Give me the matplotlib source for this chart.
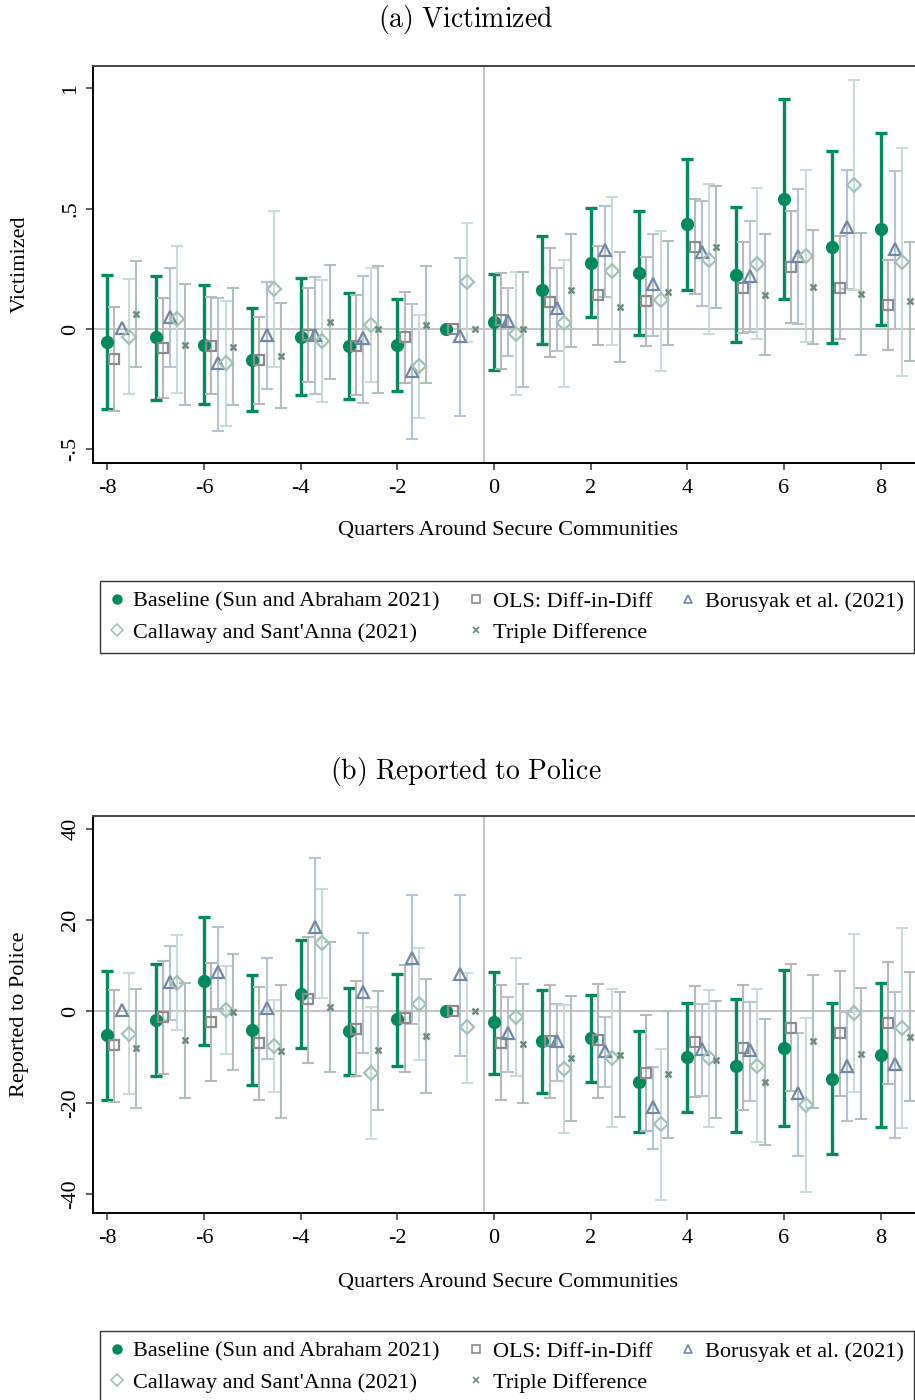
import numpy as np
import matplotlib
matplotlib.use("Agg")
import matplotlib.pyplot as plt
from matplotlib.lines import Line2D

plt.rcParams['font.family'] = ['Liberation Serif', 'DejaVu Serif']
plt.rcParams['mathtext.fontset'] = 'cm'

nan = np.nan
quarters = np.arange(-8, 9)

# ---- panel (a): victimized ----
vic_base = [-0.055, -0.035, -0.066, -0.127, -0.032, -0.071, -0.065, 0.0, 0.028, 0.162, 0.274, 0.234, 0.436, 0.224, 0.542, 0.340, 0.415]
vic_base_lo = [-0.332, -0.293, -0.311, -0.339, -0.275, -0.289, -0.256, nan, -0.170, -0.062, 0.048, -0.024, 0.162, -0.053, 0.124, -0.059, 0.017]
vic_base_hi = [0.224, 0.221, 0.181, 0.086, 0.212, 0.151, 0.124, nan, 0.227, 0.387, 0.501, 0.490, 0.705, 0.505, 0.956, 0.740, 0.815]

vic_ols = [-0.124, -0.079, -0.071, -0.129, -0.024, -0.069, -0.035, 0.0, 0.036, 0.111, 0.141, 0.118, 0.342, 0.172, 0.259, 0.172, 0.100]
vic_ols_lo = [-0.339, -0.286, -0.271, -0.311, -0.220, -0.274, -0.223, nan, -0.165, -0.115, -0.065, -0.072, 0.145, -0.018, 0.026, -0.043, -0.087]
vic_ols_hi = [0.093, 0.127, 0.131, 0.051, 0.170, 0.140, 0.152, nan, 0.232, 0.337, 0.346, 0.300, 0.541, 0.361, 0.491, 0.385, 0.286]

vic_bor = [0.005, 0.051, -0.142, -0.024, -0.024, -0.039, -0.173, -0.030, 0.035, 0.089, 0.328, 0.189, 0.318, 0.221, 0.304, 0.422, 0.331]
vic_bor_lo = [nan, -0.159, -0.422, -0.250, -0.270, -0.307, -0.459, -0.362, -0.113, -0.090, 0.131, -0.028, 0.095, -0.014, 0.021, 0.165, 0.0]
vic_bor_hi = [nan, 0.252, 0.129, 0.195, 0.214, 0.219, 0.104, 0.293, 0.172, 0.253, 0.509, 0.396, 0.530, 0.447, 0.580, 0.661, 0.657]

vic_cs = [-0.032, 0.040, -0.142, 0.165, -0.051, 0.018, -0.154, 0.194, -0.022, 0.024, 0.242, 0.120, 0.288, 0.272, 0.304, 0.598, 0.277]
vic_cs_lo = [-0.270, -0.267, -0.404, -0.159, -0.303, -0.220, -0.371, -0.055, -0.275, -0.239, -0.066, -0.173, -0.021, -0.043, -0.053, 0.162, -0.195]
vic_cs_hi = [0.207, 0.346, 0.118, 0.491, 0.203, 0.253, 0.059, 0.441, 0.235, 0.288, 0.549, 0.408, 0.602, 0.584, 0.660, 1.035, 0.751]

vic_ddd = [0.062, -0.066, -0.073, -0.112, 0.029, 0.0, 0.018, 0.0, -0.001, 0.162, 0.093, 0.155, 0.342, 0.141, 0.176, 0.145, 0.115]
vic_ddd_lo = [-0.156, -0.317, -0.317, -0.329, -0.206, -0.264, -0.224, nan, -0.242, -0.073, -0.136, -0.065, 0.087, -0.109, -0.062, -0.107, -0.131]
vic_ddd_hi = [0.281, 0.185, 0.170, 0.107, 0.267, 0.261, 0.263, nan, 0.238, 0.396, 0.318, 0.367, 0.593, 0.393, 0.412, 0.400, 0.362]

# ---- panel (b): reported to police ----
rep_base = [-5.18, -1.9, 6.72, -4.09, 3.8, -4.38, -1.75, 0.0, -2.4, -6.5, -5.9, -15.4, -10.0, -12.0, -7.96, -14.7, -9.56]
rep_base_lo = [-19.3, -14.2, -7.37, -16.1, -7.96, -13.9, -11.9, nan, -13.6, -17.9, -15.5, -26.3, -22.0, -26.4, -25.1, -31.2, -25.3]
rep_base_hi = [8.9, 10.3, 20.7, 7.88, 15.6, 5.18, 8.3, nan, 8.7, 4.6, 3.7, -4.38, 1.9, 2.63, 9.05, 1.9, 6.13]

rep_ols = [-7.45, -1.24, -2.34, -7.0, 2.63, -3.8, -1.53, 0.0, -6.86, -6.5, -6.35, -13.4, -6.64, -7.96, -3.58, -4.8, -2.48]
rep_ols_lo = [-19.8, -13.7, -15.2, -19.4, -11.2, -14.2, -13.2, nan, -19.4, -19.0, -19.05, -26.1, -18.8, -21.6, -17.4, -18.5, -15.8]
rep_ols_hi = [4.67, 11.0, 10.6, 5.4, 16.35, 6.7, 10.1, nan, 5.77, 5.77, 6.1, -0.88, 5.55, 5.84, 10.3, 8.76, 10.8]

rep_bor = [0.29, 6.5, 8.69, 0.8, 18.5, 4.3, 11.75, 8.2, -4.67, -6.5, -8.6, -20.9, -8.25, -8.47, -17.96, -11.9, -11.6]
rep_bor_lo = [nan, -1.9, 0.44, -10.4, 2.85, -9.05, -2.85, -9.7, -13.2, -15.2, -16.5, -30.1, -18.5, -19.6, -31.6, -23.9, -27.8]
rep_bor_hi = [nan, 14.3, 18.5, 11.75, 33.5, 17.1, 25.5, 25.5, 3.2, 1.6, -1.17, -12.1, 1.6, 1.97, -4.8, -0.15, 4.16]

rep_cs = [-4.96, 6.28, 0.29, -7.5, 14.9, -13.4, 1.6, -3.5, -1.24, -12.6, -10.3, -24.7, -10.3, -12.0, -20.4, -0.36, -3.65]
rep_cs_lo = [-18.1, -4.09, -9.34, -17.7, 3.0, -27.9, -10.7, -15.6, -14.1, -26.6, -25.2, -41.2, -25.4, -28.5, -39.5, -17.7, -25.5]
rep_cs_hi = [8.4, 16.7, 9.93, 2.6, 26.9, 1.0, 13.9, 8.5, 11.7, 1.3, 4.8, -8.25, 4.67, 4.8, -1.4, 17.0, 18.3]

rep_ddd = [-8.1, -6.35, -0.15, -8.76, 1.0, -8.47, -5.33, 0.0, -7.08, -10.3, -9.56, -13.8, -10.6, -15.5, -6.57, -9.27, -5.55]
rep_ddd_lo = [-21.1, -19.0, -12.8, -23.4, -13.2, -21.6, -17.9, nan, -20.0, -24.1, -23.1, -27.7, -23.3, -29.3, -21.2, -23.6, -19.6]
rep_ddd_hi = [4.89, 6.28, 12.6, 5.84, 15.1, 4.45, 7.15, nan, 5.9, 3.4, 4.3, 0.0, 2.2, -1.6, 8.0, 5.18, 8.54]

labels = ["Baseline (Sun and Abraham 2021)", "OLS: Diff-in-Diff", "Borusyak et al. (2021)",
          "Callaway and Sant'Anna (2021)", "Triple Difference"]

# style per series: offset, marker, marker size, marker colour, ci colour, ci width, filled
styles = [
    (0.00, 'o', 8.5, '#008a5e', '#008a5e', 2.4, True),
    (0.15, 's', 7.5, '#8c8c8c', '#b8b8b8', 1.5, False),
    (0.30, '^', 8.5, '#7088a8', '#b5c2d3', 1.5, False),
    (0.45, 'D', 7.0, '#a2c2b4', '#cadcd4', 1.5, False),
    (0.60, 'x', 5.0, '#6c8c7c', '#aec2b8', 1.5, False),
]

W, H = 915, 1400
fig = plt.figure(figsize=(W / 100, H / 100), dpi=100)


def fx(px):
    return px / W


def fy(py):
    return 1 - py / H


def panel(top_px, bot_px, series, ylim, yticks, yticklabels, title, ylab, title_y, xlab_y, leg_y):
    ax = fig.add_axes([fx(92.7), fy(bot_px), 1 - fx(92.7), (bot_px - top_px) / H])
    ax.axhline(0, color='#c4c4c4', lw=1.5, zorder=0)
    ax.axvline(-0.2, color='#c4c4c4', lw=1.5, zorder=0)
    handles = []
    for (vals, lo, hi), (off, mk, ms, mc, cc, lw, filled) in zip(series, styles):
        vals = np.array(vals)
        lo = np.array(lo)
        hi = np.array(hi)
        x = quarters + off
        ax.errorbar(x, vals, yerr=[vals - lo, hi - vals], fmt='none', ecolor=cc,
                    elinewidth=lw, capsize=4.4, capthick=lw, zorder=2)
        if filled:
            ax.plot(x, vals, ls='none', marker=mk, ms=ms, color=mc, zorder=3)
            h = Line2D([], [], ls='none', marker=mk, ms=6.5, color=mc)
        else:
            mew = 1.6 if mk != 'x' else 1.8
            ax.plot(x, vals, ls='none', marker=mk, ms=ms, mfc='none' if mk != 'x' else mc,
                    mec=mc, mew=mew, zorder=3)
            h = Line2D([], [], ls='none', marker=mk, ms=6 if mk != 'x' else 4.5,
                       mfc='none' if mk != 'x' else mc, mec=mc, mew=1.2)
        handles.append(h)
    ax.set_xlim(-8.30, 8.71)
    ax.set_ylim(*ylim)
    ax.set_xticks(np.arange(-8, 9, 2))
    ax.set_xticklabels([str(v) for v in range(-8, 9, 2)], fontsize=16)
    ax.set_yticks(yticks)
    ax.set_yticklabels(yticklabels, fontsize=16, rotation=90, va='center')
    ax.tick_params(length=5, width=1.1, pad=4, color='#333333')
    ax.tick_params(axis='x', pad=6.5)
    ax.spines['right'].set_visible(False)
    for s in ['left', 'bottom']:
        ax.spines[s].set_linewidth(1.4)
        ax.spines[s].set_color('black')
    ax.spines['top'].set_linewidth(1.4)
    ax.spines['top'].set_color('#444444')

    fig.text(fx(466), fy(title_y), title, ha='center', va='center', fontsize=20)
    fig.text(fx(20), fy((top_px + bot_px) / 2), ylab, rotation=90, ha='center', va='center', fontsize=16)
    fig.text(fx(508), fy(xlab_y), "Quarters Around Secure Communities", ha='center', va='center', fontsize=16)

    order = [0, 3, 1, 4, 2]
    leg = fig.legend([handles[i] for i in order], [labels[i] for i in order], ncol=3,
                     loc='upper left', bbox_to_anchor=(fx(100), fy(leg_y)),
                     borderaxespad=0, fontsize=16, frameon=True, fancybox=False,
                     edgecolor='black', handlelength=0.6, handletextpad=0.45,
                     columnspacing=1.33, labelspacing=0.48, borderpad=0.45)
    leg.get_frame().set_linewidth(1.0)
    return ax


panel(65.7, 463.3,
      [(vic_base, vic_base_lo, vic_base_hi), (vic_ols, vic_ols_lo, vic_ols_hi),
       (vic_bor, vic_bor_lo, vic_bor_hi), (vic_cs, vic_cs_lo, vic_cs_hi),
       (vic_ddd, vic_ddd_lo, vic_ddd_hi)],
      (-0.558, 1.094), [-0.5, 0, 0.5, 1], ['-.5', '0', '.5', '1'],
      r'$\mathrm{(a)\ Victimized}$', 'Victimized', 20, 531, 581)

panel(815.7, 1213.3,
      [(rep_base, rep_base_lo, rep_base_hi), (rep_ols, rep_ols_lo, rep_ols_hi),
       (rep_bor, rep_bor_lo, rep_bor_hi), (rep_cs, rep_cs_lo, rep_cs_hi),
       (rep_ddd, rep_ddd_lo, rep_ddd_hi)],
      (-44.2, 42.85), [-40, -20, 0, 20, 40], ['-40', '-20', '0', '20', '40'],
      r'$\mathrm{(b)\ Reported\ to\ Police}$', 'Reported to Police', 771, 1283, 1331)

fig.savefig('out.png', dpi=100)
